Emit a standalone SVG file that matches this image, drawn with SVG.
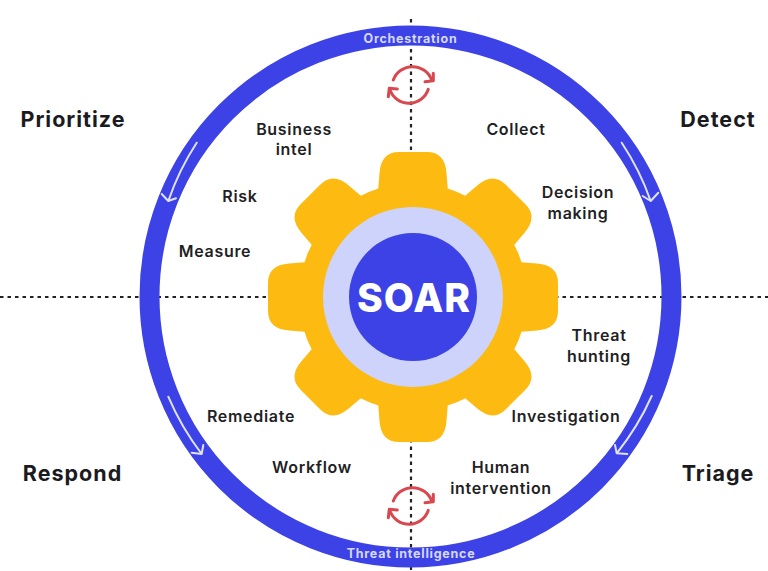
<svg xmlns="http://www.w3.org/2000/svg" width="768" height="571" viewBox="0 0 768 571">
<style>
text{font-family:"Inter","Liberation Sans",sans-serif;text-anchor:middle}
.h{font-size:21.5px;font-weight:700;fill:#1b1b1f;letter-spacing:1px}
.l{font-size:16px;font-weight:600;fill:#1f1f24;letter-spacing:.7px}
.b{font-size:12.5px;font-weight:700;fill:#d5d9fb;letter-spacing:.75px}
.d{fill:none;stroke:#222;stroke-width:2.2;stroke-dasharray:3.5 4}
.w{fill:none;stroke:#dfe2fb;stroke-width:2;stroke-linecap:round;stroke-linejoin:round}
.r{fill:none;stroke:#d9474f;stroke-width:3;stroke-linecap:round;stroke-linejoin:round}
</style>
<defs>
<path id="tooth" d="M-35-105 L-33.5-124 Q-32-145-14-145 L14-145 Q32-145 33.5-124 L35-105 Z" fill="#fdbb11"/>
<g id="cycle">
<path class="r" d="M393.3 80 A20.5 20.5 0 0 1 431.7 80"/>
<path class="r" d="M425 81.7 L433.3 80.7 L433.3 73.3"/>
<path class="r" d="M428.3 89.3 A20.3 20.3 0 0 1 390 90"/>
<path class="r" d="M388.3 96.7 L389.3 88.3 L397.3 89"/>
</g>
</defs>
<rect width="768" height="571" fill="#fff"/>
<g id="connectors">
<path class="d" d="M0 297H768"/>
<path class="d" d="M411 19V571"/>
</g>
<g id="ring"><circle cx="410.5" cy="296.5" r="261" fill="none" stroke="#3c42e6" stroke-width="20"/>
<path class="w" d="M621.7 142.7 A261 261 0 0 1 650.7 201 M642.7 196 L650.7 201 L658.3 192.7"/>
<path class="w" d="M196.7 142.7 A261 261 0 0 0 168.3 201 M161.7 194 L168.3 201 L176 198.3"/>
<path class="w" d="M168.3 396.7 A261 261 0 0 0 201.7 454 M191.7 452.7 L201.7 454 L203.3 445"/>
<path class="w" d="M651.7 396 A261 261 0 0 1 616.7 453.3 M615 445 L616.7 453.3 L627.3 454"/>
<text class="b" x="410.5" y="42.5">Orchestration</text>
<text class="b" x="411" y="558">Threat intelligence</text>
</g>
<g id="orchestration-cycle"><use href="#cycle"/></g>
<g id="intelligence-cycle"><use href="#cycle" y="421"/></g>
<g id="gear">
<g transform="translate(413 297)">
<circle r="114" fill="#fdbb11"/>
<use href="#tooth"/>
<use href="#tooth" transform="rotate(45)"/>
<use href="#tooth" transform="rotate(90)"/>
<use href="#tooth" transform="rotate(135)"/>
<use href="#tooth" transform="rotate(180)"/>
<use href="#tooth" transform="rotate(225)"/>
<use href="#tooth" transform="rotate(270)"/>
<use href="#tooth" transform="rotate(315)"/>
<circle r="90" fill="#cdd3fa"/>
<circle r="64" fill="#3c42e6"/>
</g>
<text x="414" y="311.5" font-size="39" font-weight="800" fill="#fff" letter-spacing="1">SOAR</text>
</g>
<g id="phase-prioritize"><text class="h" x="73" y="127">Prioritize</text></g>
<g id="phase-detect"><text class="h" x="718" y="127">Detect</text></g>
<g id="phase-respond"><text class="h" x="72.5" y="481">Respond</text></g>
<g id="phase-triage"><text class="h" x="718" y="481">Triage</text></g>
<g id="label-business"><text class="l" x="294" y="135">Business</text><text class="l" x="294" y="155">intel</text></g>
<g id="label-risk"><text class="l" x="240" y="202">Risk</text></g>
<g id="label-measure"><text class="l" x="215" y="257">Measure</text></g>
<g id="label-collect"><text class="l" x="516" y="135">Collect</text></g>
<g id="label-decision"><text class="l" x="578" y="198">Decision</text><text class="l" x="578" y="219">making</text></g>
<g id="label-threat"><text class="l" x="599" y="341">Threat</text><text class="l" x="599" y="362">hunting</text></g>
<g id="label-investigation"><text class="l" x="566" y="422">Investigation</text></g>
<g id="label-remediate"><text class="l" x="251" y="422">Remediate</text></g>
<g id="label-workflow"><text class="l" x="312" y="473">Workflow</text></g>
<g id="label-human"><text class="l" x="501" y="473">Human</text><text class="l" x="501" y="494">intervention</text></g>
</svg>
